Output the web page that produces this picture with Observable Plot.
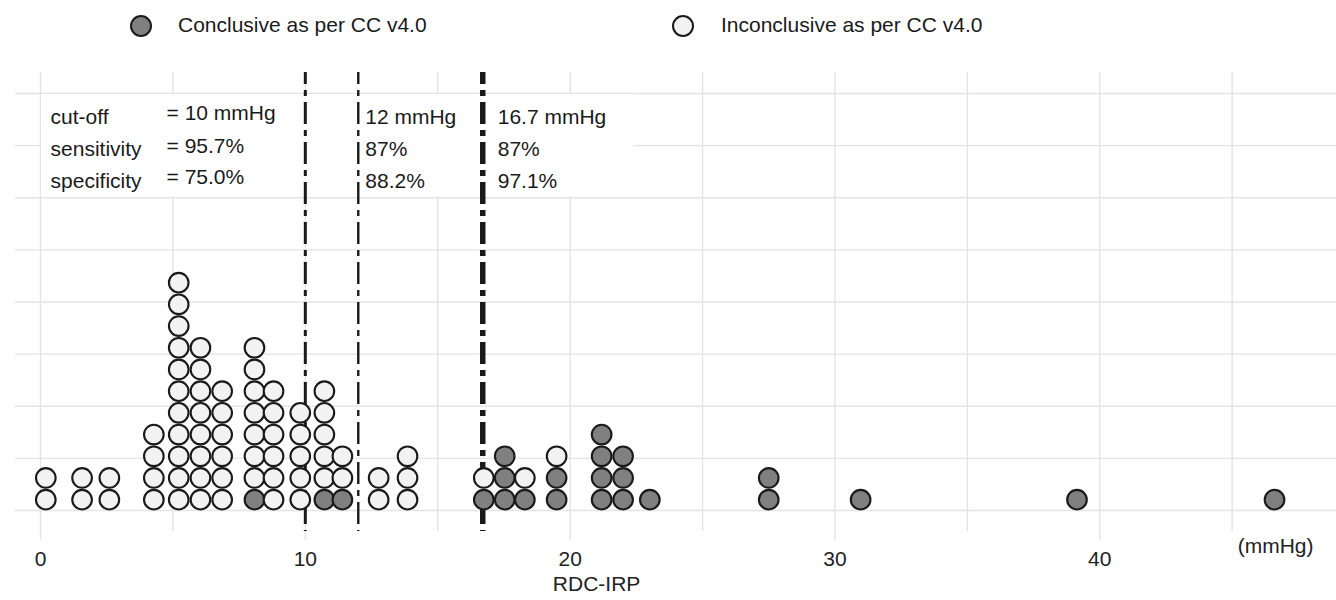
<!DOCTYPE html>
<html>
<head>
<meta charset="utf-8">
<script src="https://cdn.jsdelivr.net/npm/d3@7"></script>
<script src="https://cdn.jsdelivr.net/npm/@observablehq/plot@0.6"></script>
<style>
  html, body { margin: 0; padding: 0; background: #fff; }
  body { width: 1336px; height: 600px; overflow: hidden; font-family: "Liberation Sans", Arial, Helvetica, sans-serif; }
  #legend { position: relative; height: 50px; }
  #legend .sw { position: absolute; width: 18px; height: 18px; border: 2.1px solid #1a1a1a; border-radius: 50%; box-sizing: content-box; }
  #legend .lab { position: absolute; font-size: 21px; line-height: 24px; color: #1a1a1a; top: 13px; white-space: nowrap; }
  #chart svg { display: block; }
</style>
</head>
<body>
<div id="legend"></div>
<div id="chart"></div>
<script>
// ---- data ----
const binValues  = [0.2, 1.57, 2.6, 4.28, 5.22, 6.04, 6.86, 8.08, 8.8, 9.81, 10.72, 11.4, 12.77, 13.86,
                    16.74, 17.53, 18.29, 19.49, 21.19, 22.0, 23.01, 27.5, 30.97, 39.14, 46.6];
const conclusiveCounts   = [0, 0, 0, 0, 0, 0, 0, 1, 0, 0, 1, 1, 0, 0,
                            1, 3, 1, 2, 4, 3, 1, 2, 1, 1, 1];
const inconclusiveCounts = [2, 2, 2, 4, 11, 8, 6, 7, 6, 5, 5, 2, 2, 3,
                            1, 0, 1, 1, 0, 0, 0, 0, 0, 0, 0];
const groups = ["Conclusive as per CC v4.0", "Inconclusive as per CC v4.0"];
const groupColors = ["#808080", "#f1f2f1"];
const cutoffs = [10, 12, 16.7];
const cutoffWidths = [3, 2.4, 5.5];
const xTicks = [0, 10, 20, 30, 40];
const xGrid = [0, 5, 10, 15, 20, 25, 30, 35, 40, 45];
const yGrid = [0, 1, 2, 3, 4, 5, 6, 7, 8];
const rowLabels = ["cut-off", "sensitivity", "specificity"];
const cut10Text = ["= 10 mmHg", "= 95.7%", "= 75.0%"];
const cut12Text = ["12 mmHg", "87%", "88.2%"];
const cut167Text = ["16.7 mmHg", "87%", "97.1%"];
const xUnit = "(mmHg)";
const xTitle = "RDC-IRP";

// ---- layout constants ----
const W = 1336, H = 550;
const dotStep = 0.4163;       // one stacked dot, in y units
const rowY = [7.55, 6.93, 6.32];
const textFont = "Liberation Sans, Arial, Helvetica, sans-serif";

// ---- build stacked dot table ----
const dots = [];
binValues.forEach((v, i) => {
  let k = 0;
  for (let j = 0; j < conclusiveCounts[i]; j++, k++) dots.push({x: v, y: (k + 0.5) * dotStep, g: groups[0]});
  for (let j = 0; j < inconclusiveCounts[i]; j++, k++) dots.push({x: v, y: (k + 0.5) * dotStep, g: groups[1]});
});

// ---- legend ----
const legend = document.getElementById("legend");
[[130, 178], [672, 721]].forEach(([cx, tx], i) => {
  const sw = document.createElement("span");
  sw.className = "sw"; sw.style.left = cx + "px"; sw.style.top = "15px"; sw.style.background = groupColors[i];
  const lab = document.createElement("span");
  lab.className = "lab"; lab.style.left = tx + "px"; lab.textContent = groups[i];
  legend.append(sw, lab);
});

const rows = (arr) => arr.map((t, i) => ({t, y: rowY[i]}));
const gridColor = "#e4e4e4";

const chart = Plot.plot({
  width: W, height: H,
  marginLeft: 15, marginRight: 0, marginTop: 22, marginBottom: 69,
  style: {fontFamily: textFont, fontSize: "21px", background: "white"},
  x: {domain: [-0.944, 48.94]},
  y: {domain: [-0.403, 8.403], axis: null},
  color: {domain: groups, range: groupColors},
  marks: [
    Plot.ruleY(yGrid, {y: d => d, stroke: gridColor, strokeWidth: 1.4}),
    Plot.ruleX(xGrid, {x: d => d, stroke: gridColor, strokeWidth: 1.4}),
    Plot.rect([0], {x1: 0, x2: 22.4, y1: 6, y2: 8, fill: "white", insetLeft: 1, insetTop: 1, insetBottom: 1}),
    Plot.axisX({ticks: xTicks, tickSize: 9, tickPadding: 11, stroke: gridColor, strokeWidth: 1.4,
                fill: "#222", fontSize: 21, label: null, tickFormat: d => String(d)}),
    Plot.ruleX(cutoffs, {x: d => d, strokeWidth: (d, i) => cutoffWidths[i], stroke: "#1a1a1a",
                         strokeDasharray: "22,6,6,6", strokeDashoffset: 10}),
    Plot.dot(dots, {x: "x", y: "y", fill: "g", r: 9.8, stroke: "#1a1a1a", strokeWidth: 2.1}),
    Plot.text(rows(rowLabels), {x: 0.38, y: "y", text: "t", textAnchor: "start", fill: "#1a1a1a", fontSize: 21}),
    Plot.text(rows(cut10Text), {x: 4.76, y: "y", text: "t", dy: -3.5, textAnchor: "start", fill: "#1a1a1a", fontSize: 21}),
    Plot.text(rows(cut12Text), {x: cutoffs[1], y: "y", dx: 7, text: "t", textAnchor: "start", fill: "#1a1a1a", fontSize: 21}),
    Plot.text(rows(cut167Text), {x: cutoffs[2], y: "y", dx: 15, text: "t", textAnchor: "start", fill: "#1a1a1a", fontSize: 21}),
    Plot.text([xUnit], {x: 46.64, text: d => d, frameAnchor: "bottom", dy: 21, fill: "#222", fontSize: 21}),
    Plot.text([xTitle], {x: 21, text: d => d, frameAnchor: "bottom", dy: 59, fill: "#222", fontSize: 21})
  ]
});
document.getElementById("chart").append(chart);
</script>
</body>
</html>
